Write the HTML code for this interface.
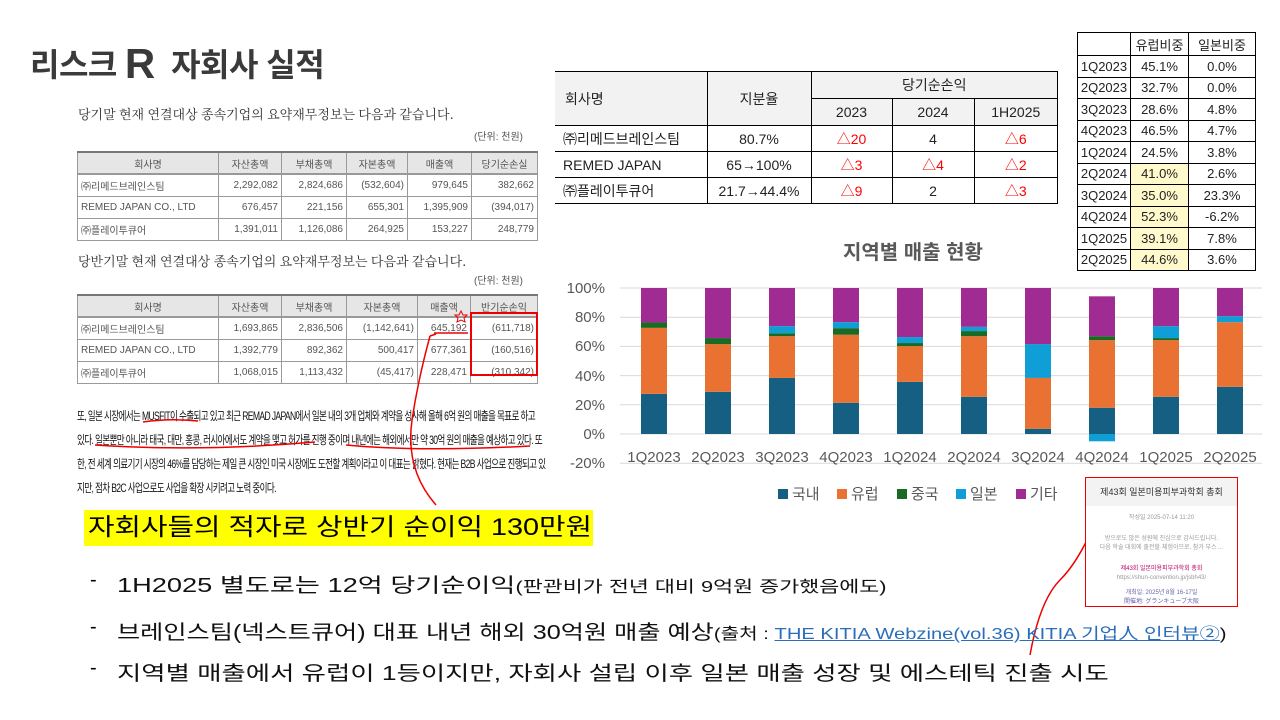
<!DOCTYPE html>
<html><head><meta charset="utf-8">
<style>
*{margin:0;padding:0;box-sizing:border-box}
body{width:1280px;height:720px;background:#fff;position:relative;overflow:hidden;font-family:"Liberation Sans","Noto Sans CJK KR",sans-serif;color:#000}
.a{position:absolute;white-space:nowrap}
table{border-collapse:collapse;position:absolute}
.t1 td{border:1px solid #9a9a9a;font-size:10px;color:#555;padding:0 3px;text-align:right;height:22px}
.t1 tr:first-child td{background:#e6e6e6;text-align:center;border-top:2px solid #777;border-bottom:2px solid #999}
.t1 td:first-child{text-align:left}
.t1 tr:first-child td:first-child{text-align:center}
.t2 td{border:1px solid #000;font-size:14px;text-align:center;color:#222}
.t2 .h{background:#f2f2f2}
.t2 td.r{color:#f00}
.t3 td{border:1px solid #000;font-size:13px;text-align:center;height:21.5px;color:#222}
.y{background:#fff9cc}
.b{font-size:20px;color:#111;transform:scaleX(1.36);transform-origin:left}
.s{font-size:16px}
</style></head><body>
<div class="a" style="left:30px;top:38px;font-size:32px;font-weight:bold;color:#3a3a3a;letter-spacing:-0.5px">리스크<span style="font-size:42px;margin:0 8px;position:relative;top:2px">R</span> 자회사 실적</div>

<div class="a" style="left:78px;top:104px;font-size:13px;color:#333;font-family:'Noto Serif CJK SC',serif">당기말 현재 연결대상 종속기업의 요약재무정보는 다음과 같습니다.</div>
<div class="a" style="left:474px;top:128px;font-size:10px;color:#555">(단위: 천원)</div>
<table class="t1" style="left:77px;top:151px;width:461px">
<tr><td style="width:141px">회사명</td><td style="width:63px">자산총액</td><td style="width:65px">부채총액</td><td style="width:61px">자본총액</td><td style="width:64px">매출액</td><td>당기순손실</td></tr>
<tr><td>㈜리메드브레인스팀</td><td>2,292,082</td><td>2,824,686</td><td>(532,604)</td><td>979,645</td><td>382,662</td></tr>
<tr><td>REMED JAPAN CO., LTD</td><td>676,457</td><td>221,156</td><td>655,301</td><td>1,395,909</td><td>(394,017)</td></tr>
<tr><td>㈜플레이투큐어</td><td>1,391,011</td><td>1,126,086</td><td>264,925</td><td>153,227</td><td>248,779</td></tr>
</table>
<div class="a" style="left:78px;top:251px;font-size:13px;color:#333;font-family:'Noto Serif CJK SC',serif">당반기말 현재 연결대상 종속기업의 요약재무정보는 다음과 같습니다.</div>
<div class="a" style="left:474px;top:272px;font-size:10px;color:#555">(단위: 천원)</div>
<table class="t1" style="left:77px;top:294px;width:461px">
<tr><td style="width:141px;height:20px">회사명</td><td style="width:63px">자산총액</td><td style="width:65px">부채총액</td><td style="width:71px">자본총액</td><td style="width:53px">매출액</td><td>반기순손익</td></tr>
<tr><td style="height:20px">㈜리메드브레인스팀</td><td>1,693,865</td><td>2,836,506</td><td>(1,142,641)</td><td>645,192</td><td>(611,718)</td></tr>
<tr><td style="height:21px">REMED JAPAN CO., LTD</td><td>1,392,779</td><td>892,362</td><td>500,417</td><td>677,361</td><td>(160,516)</td></tr>
<tr><td style="height:21px">㈜플레이투큐어</td><td>1,068,015</td><td>1,113,432</td><td>(45,417)</td><td>228,471</td><td>(310,342)</td></tr>
</table>
<div class="a" style="left:470px;top:312px;width:68px;height:64px;border:2px solid #e00"></div>

<div class="a" style="left:77px;top:404px;font-size:12px;line-height:24px;color:#111;letter-spacing:-0.9px;transform:scaleX(0.715);transform-origin:left">또, 일본 시장에서는 MUSFIT이 수출되고 있고 최근 REMAD JAPAN에서 일본 내의 3개 업체와 계약을 성사해 올해 6억 원의 매출을 목표로 하고<br>있다. 일본뿐만 아니라 태국, 대만, 홍콩, 러시아에서도 계약을 맺고 허가를 진행 중이며 내년에는 해외에서만 약 30억 원의 매출을 예상하고 있다. 또<br>한, 전 세계 의료기기 시장의 46%를 담당하는 제일 큰 시장인 미국 시장에도 도전할 계획이라고 이 대표는 밝혔다. 현재는 B2B 사업으로 진행되고 있<br>지만, 점차 B2C 사업으로도 사업을 확장 시키려고 노력 중이다.</div>

<svg class="a" style="left:0;top:0" width="1280" height="720">
<g fill="none" stroke="#e00" stroke-width="1.5">
<path d="M143 422 Q170 418 198 421"/>
<path d="M95 445 Q200 452 315 442"/>
<path d="M346 445 Q420 452 530 446"/>
<path d="M436 505 Q405 470 412 420 Q418 380 430 336"/>
<path d="M430 336 L436 334"/>
<path d="M434 333 L468 333"/>
<path d="M1030 655 Q1040 600 1060 580 Q1075 565 1088 538"/>
</g>
<polygon points="461,311 463,315 467,315 464,318 465,322 461,320 457,322 458,318 455,315 459,315" fill="none" stroke="#e00"/>
</svg>

<table class="t2" style="left:555px;top:71px;width:503px">
<tr class="h"><td rowspan="2" style="width:152px;text-align:left;padding-left:10px;border-left:none">회사명</td><td rowspan="2" style="width:104px">지분율</td><td colspan="3" style="height:27px">당기순손익</td></tr>
<tr class="h"><td style="width:81px;height:27px">2023</td><td style="width:82px">2024</td><td>1H2025</td></tr>
<tr><td style="text-align:left;padding-left:8px;height:26px;border-left:none">㈜리메드브레인스팀</td><td>80.7%</td><td class="r">△20</td><td>4</td><td class="r">△6</td></tr>
<tr><td style="text-align:left;padding-left:8px;height:26px;border-left:none">REMED JAPAN</td><td>65→100%</td><td class="r">△3</td><td class="r">△4</td><td class="r">△2</td></tr>
<tr><td style="text-align:left;padding-left:8px;height:26px;border-left:none">㈜플레이투큐어</td><td>21.7→44.4%</td><td class="r">△9</td><td>2</td><td class="r">△3</td></tr>
</table>

<table class="t3" style="left:1077px;top:32px;width:179px">
<tr><td style="width:53px;height:23px"></td><td style="width:58px">유럽비중</td><td>일본비중</td></tr>
<tr><td>1Q2023</td><td>45.1%</td><td>0.0%</td></tr>
<tr><td>2Q2023</td><td>32.7%</td><td>0.0%</td></tr>
<tr><td>3Q2023</td><td>28.6%</td><td>4.8%</td></tr>
<tr><td>4Q2023</td><td>46.5%</td><td>4.7%</td></tr>
<tr><td>1Q2024</td><td>24.5%</td><td>3.8%</td></tr>
<tr><td>2Q2024</td><td class="y">41.0%</td><td>2.6%</td></tr>
<tr><td>3Q2024</td><td class="y">35.0%</td><td>23.3%</td></tr>
<tr><td>4Q2024</td><td class="y">52.3%</td><td>-6.2%</td></tr>
<tr><td>1Q2025</td><td class="y">39.1%</td><td>7.8%</td></tr>
<tr><td>2Q2025</td><td class="y">44.6%</td><td>3.6%</td></tr>
</table>

<div class="a" style="left:843px;top:236px;font-size:20px;font-weight:bold;color:#595959">지역별 매출 현황</div>

<svg class="a" style="left:0;top:0" width="1280" height="720" id="ch">
<g stroke="#d9d9d9" stroke-width="1">
<line x1="620" x2="1262" y1="288" y2="288"/><line x1="620" x2="1262" y1="317.2" y2="317.2"/><line x1="620" x2="1262" y1="346.4" y2="346.4"/><line x1="620" x2="1262" y1="375.6" y2="375.6"/><line x1="620" x2="1262" y1="404.8" y2="404.8"/><line x1="620" x2="1262" y1="434" y2="434"/><line x1="620" x2="1262" y1="463.2" y2="463.2"/>
</g>
<g font-size="15" fill="#595959" text-anchor="end" font-family="Liberation Sans, sans-serif">
<text x="605" y="293">100%</text><text x="605" y="322">80%</text><text x="605" y="351">60%</text><text x="605" y="381">40%</text><text x="605" y="410">20%</text><text x="605" y="439">0%</text><text x="605" y="468">-20%</text>
</g>
<g id="bars"></g>
<g font-size="15" fill="#595959" text-anchor="middle" font-family="Liberation Sans, sans-serif">
<text x="654" y="462">1Q2023</text><text x="718" y="462">2Q2023</text><text x="782" y="462">3Q2023</text><text x="846" y="462">4Q2023</text><text x="910" y="462">1Q2024</text><text x="974" y="462">2Q2024</text><text x="1038" y="462">3Q2024</text><text x="1102" y="462">4Q2024</text><text x="1166" y="462">1Q2025</text><text x="1230" y="462">2Q2025</text>
</g>
<g font-size="15" fill="#595959" font-family="Liberation Sans, Noto Sans CJK KR, sans-serif">
<rect x="778" y="489" width="10" height="10" fill="#156082"/><text x="792" y="499">국내</text>
<rect x="837" y="489" width="10" height="10" fill="#e97132"/><text x="851" y="499">유럽</text>
<rect x="897" y="489" width="10" height="10" fill="#196b24"/><text x="911" y="499">중국</text>
<rect x="956" y="489" width="10" height="10" fill="#0f9ed5"/><text x="970" y="499">일본</text>
<rect x="1016" y="489" width="10" height="10" fill="#a02b93"/><text x="1030" y="499">기타</text>
</g>
</svg>
<script>
var d=[[27.5,72.7,76.4,76.4,100],[28.9,61.6,65.7,65.7,100],[38.4,67,69,73.9,100],[21.4,68,72.5,76.6,100],[35.7,60.2,62.3,66.4,100],[25.5,67,70.5,73.4,100],[3.6,38.4,38.4,61.6,100],[18,64.3,67,67,94.3],[25.5,64.3,65.7,73.9,100],[32.3,76.6,76.6,80.7,100]];
var c=["#156082","#e97132","#196b24","#0f9ed5","#a02b93"],s="";
function Y(v){return 434-v*1.46}
d.forEach(function(b,i){var x=641+i*64,p=0;b.forEach(function(v,k){if(v>p){s+='<rect x="'+x+'" y="'+Y(v)+'" width="26" height="'+(Y(p)-Y(v))+'" fill="'+c[k]+'"/>';}p=v;});});
s+='<rect x="1089" y="434" width="26" height="7.3" fill="#0f9ed5"/>';
document.getElementById('bars').innerHTML=s;
</script>

<div class="a" style="left:1085px;top:477px;width:153px;height:130px;border:1.5px solid #e00;background:#fff;font-size:6px;color:#999;text-align:center">
<div style="background:#f3f3f3;height:28px;line-height:28px;font-size:9px;color:#333">제43회 일본미용피부과학회 총회</div>
<div style="margin-top:6px">작성일 2025-07-14 11:20</div>
<div style="margin-top:14px;line-height:9px">방으로도 많은 성원에 진심으로 감사드립니다.<br>다음 학술 대회에 출전할·체험이므로, 참가 부스 ...</div>
<div style="margin-top:12px;line-height:9px;color:#b06">제43회 일본미용피부과학회 총회</div><div style="line-height:9px">https://shun-convention.jp/jsbh43/</div>
<div style="margin-top:6px;line-height:9px;color:#66a">개최일: 2025년 8월 16-17일<br>開催地: グランキューブ大阪</div>
</div>

<div class="a" style="left:84px;top:510px;width:509px;height:36px;background:#ffff00"></div>
<div class="a" style="left:88px;top:510px;font-size:24px;line-height:36px;color:#000;transform:scaleX(1.2);transform-origin:left">자회사들의 적자로 상반기 순이익 130만원</div>
<div class="a" style="left:90px;top:569px;font-size:20px">-</div><div class="a b" style="left:117px;top:569px">1H2025 별도로는 12억 당기순이익<span class="s">(판관비가 전년 대비 9억원 증가했음에도)</span></div>
<div class="a" style="left:90px;top:616px;font-size:20px">-</div><div class="a b" style="left:117px;top:616px;transform:scaleX(1.26)">브레인스팀(넥스트큐어) 대표 내년 해외 30억원 매출 예상<span class="s">(출처 : <span style="color:#2a6ebb;text-decoration:underline">THE KITIA Webzine(vol.36) KITIA 기업人 인터뷰②</span>)</span></div>
<div class="a" style="left:90px;top:657px;font-size:20px">-</div><div class="a b" style="left:117px;top:657px;transform:scaleX(1.32)">지역별 매출에서 유럽이 1등이지만, 자회사 설립 이후 일본 매출 성장 및 에스테틱 진출 시도</div>
</body></html>
